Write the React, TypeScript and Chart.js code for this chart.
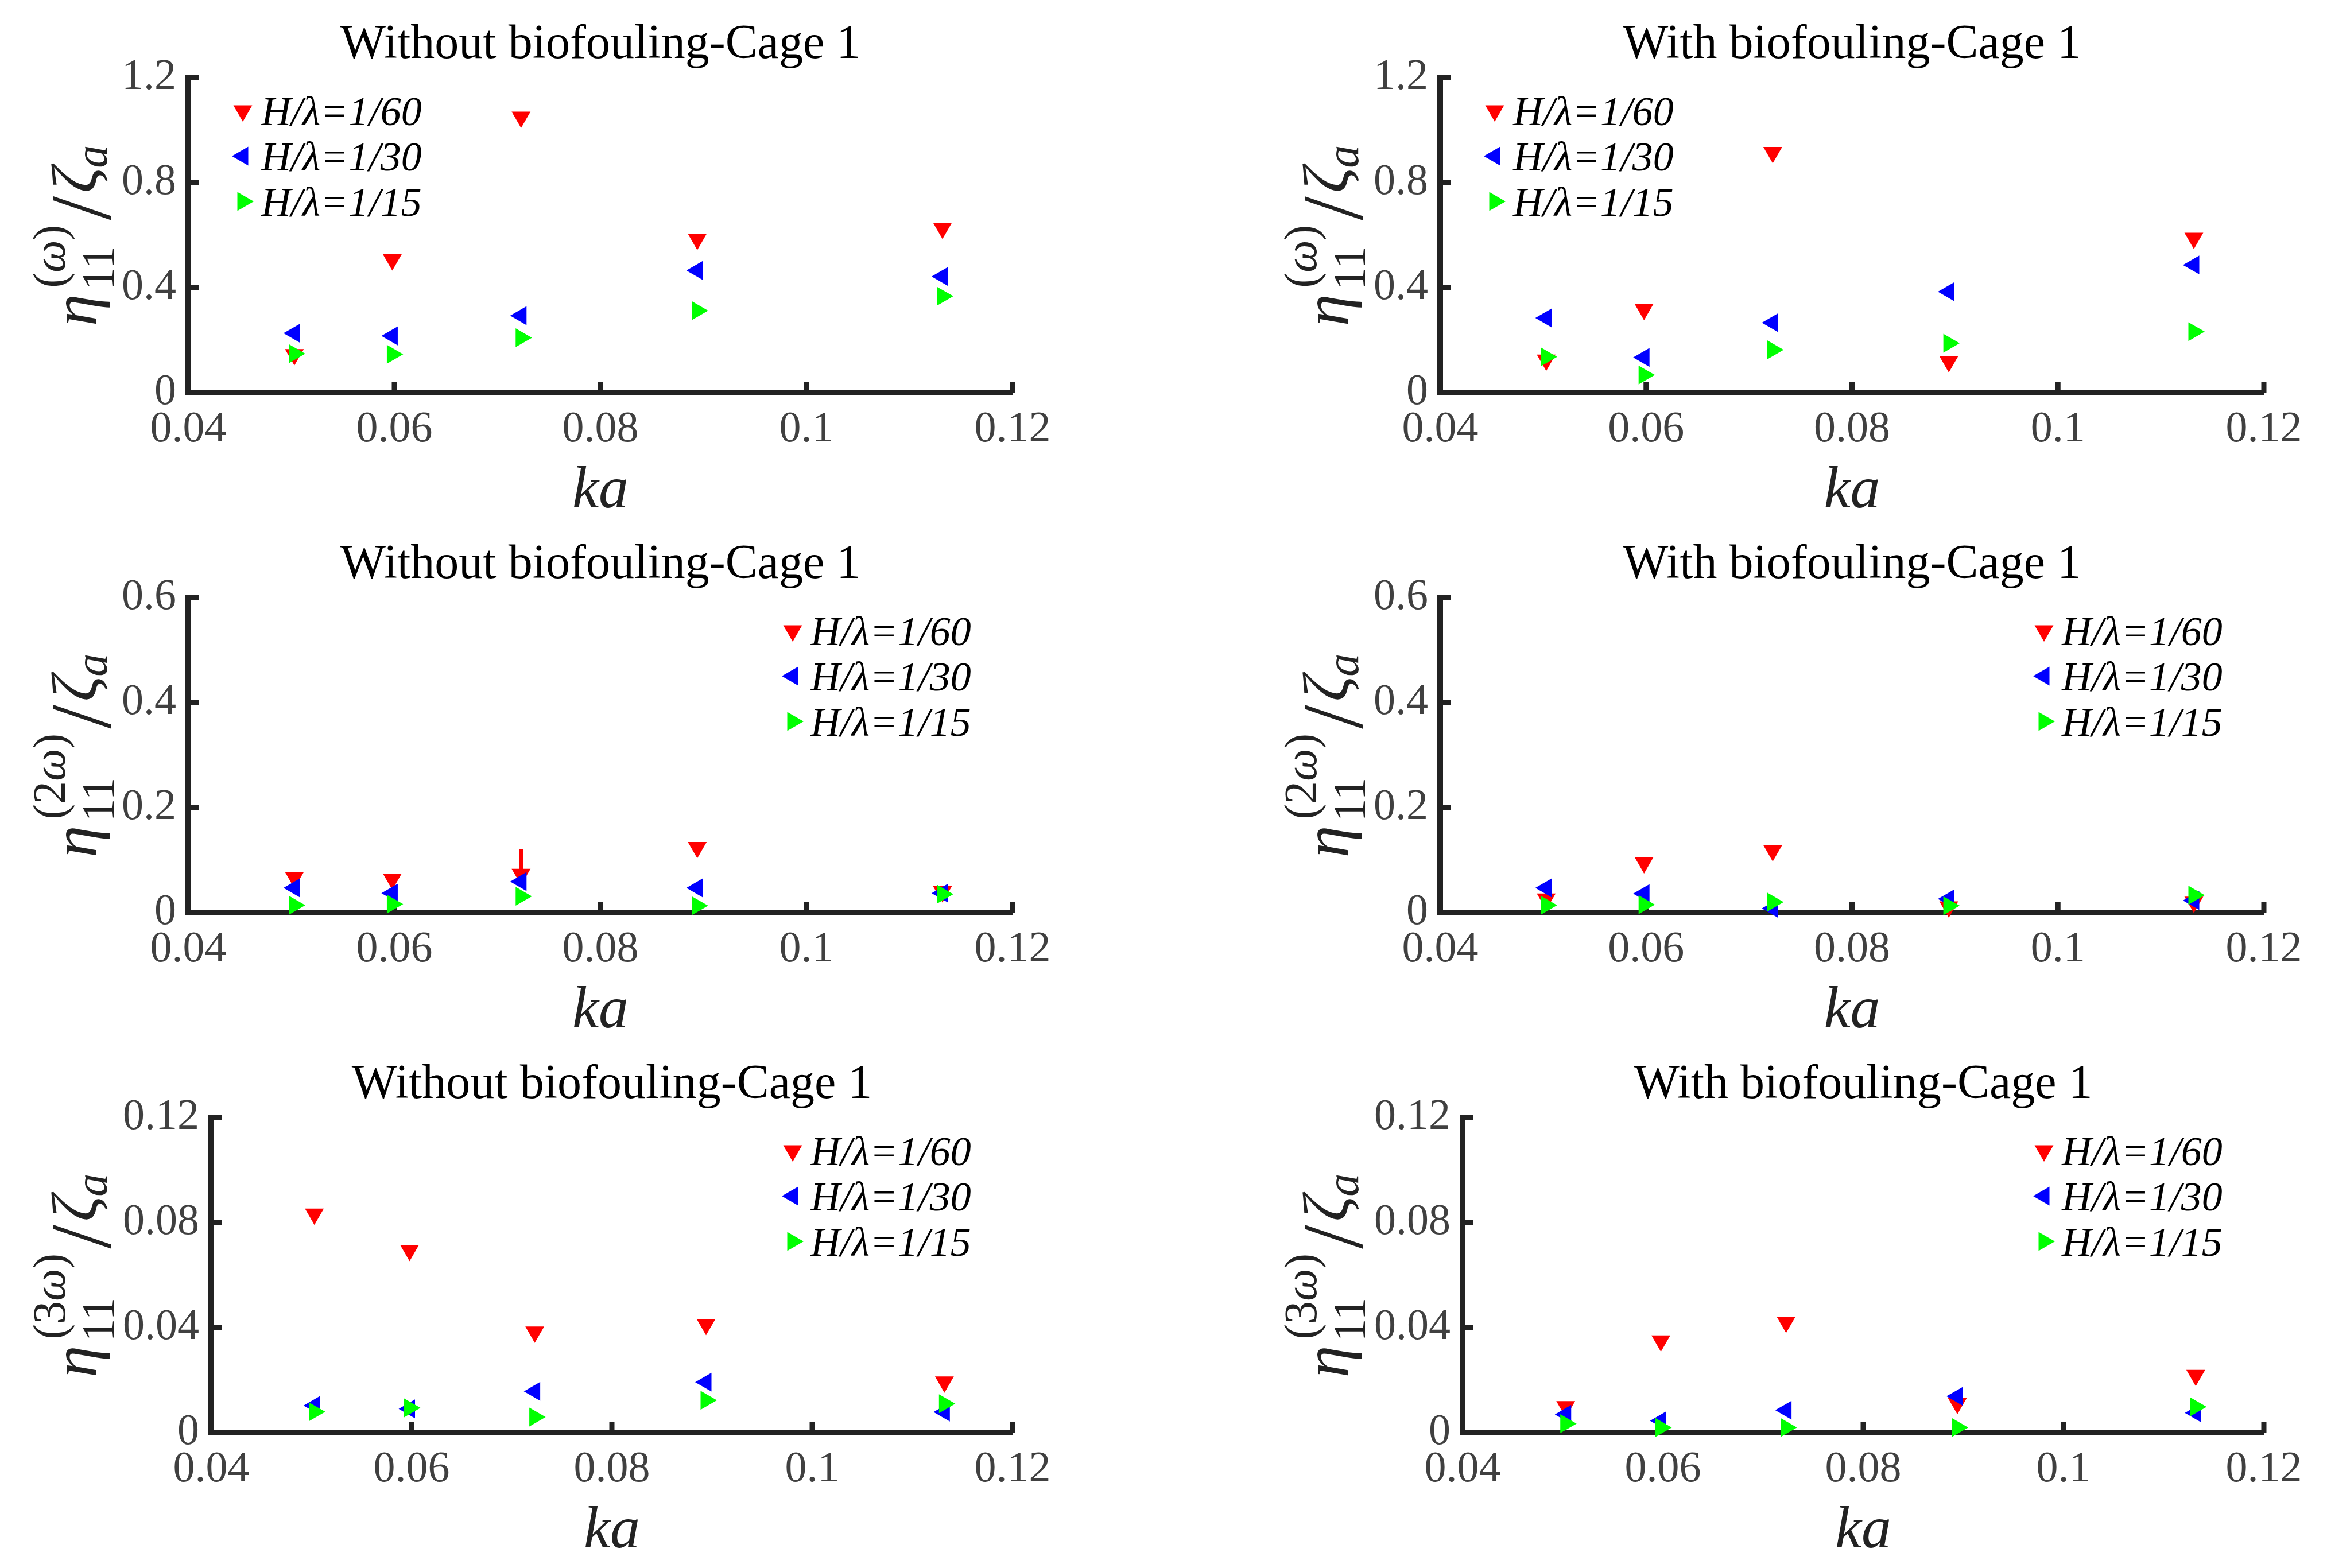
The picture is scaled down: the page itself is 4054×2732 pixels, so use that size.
import { useEffect, useRef } from "react"
import { Chart, registerables } from "chart.js"

Chart.register(...registerables)

// ka values of the five test waves
const KA = [0.0503, 0.0598, 0.0723, 0.0894, 0.1132]
const X_TICKS = [0.04, 0.06, 0.08, 0.1, 0.12]

const SERIES_LABELS = ["H/λ=1/60", "H/λ=1/30", "H/λ=1/15"]
const SERIES_COLORS = ["#ff0000", "#0000ff", "#00ff00"]
const SERIES_ROTATION = [180, 270, 90] // v, <, >

// first harmonic (ω)
const W1_CLEAN_60 = [0.145, 0.506, 1.049, 0.584, 0.626]
const W1_CLEAN_30 = [0.226, 0.216, 0.293, 0.465, 0.442]
const W1_CLEAN_15 = [0.148, 0.146, 0.209, 0.312, 0.367]
const W1_FOUL_60 = [0.124, 0.317, 0.915, 0.118, 0.588]
const W1_FOUL_30 = [0.284, 0.134, 0.266, 0.384, 0.486]
const W1_FOUL_15 = [0.136, 0.067, 0.163, 0.188, 0.232]

// second harmonic (2ω)
const W2_CLEAN_60 = [0.067, 0.064, 0.073, 0.124, 0.04]
const W2_CLEAN_30 = [0.047, 0.037, 0.059, 0.047, 0.037]
const W2_CLEAN_15 = [0.014, 0.016, 0.031, 0.013, 0.035]
const W2_FOUL_60 = [0.026, 0.095, 0.118, 0.011, 0.02]
const W2_FOUL_30 = [0.047, 0.036, 0.008, 0.026, 0.023]
const W2_FOUL_15 = [0.014, 0.015, 0.02, 0.013, 0.033]

// third harmonic (3ω)
const W3_CLEAN_60 = [0.0832, 0.0694, 0.0383, 0.0412, 0.0193]
const W3_CLEAN_30 = [0.0103, 0.009, 0.0157, 0.0192, 0.0078]
const W3_CLEAN_15 = [0.0079, 0.0094, 0.0059, 0.0123, 0.011]
const W3_FOUL_60 = [0.0099, 0.0349, 0.0421, 0.0111, 0.0218]
const W3_FOUL_30 = [0.0069, 0.0045, 0.0085, 0.0138, 0.0075]
const W3_FOUL_15 = [0.0034, 0.0019, 0.0019, 0.0019, 0.0098]

// the short red bar above the 1/60 marker at ka≈0.072 (clean, 2ω)
const W2_CLEAN_BAR_KA = 0.0723
const W2_CLEAN_BAR = [0.077, 0.121]

const Y_TICKS_W1 = [0, 0.4, 0.8, 1.2]
const Y_TICKS_W2 = [0, 0.2, 0.4, 0.6]
const Y_TICKS_W3 = [0, 0.04, 0.08, 0.12]

const TITLE_CLEAN = "Without biofouling-Cage 1"
const TITLE_FOUL = "With biofouling-Cage 1"

// page layout (px)
const CELL_X = [0, 2100]
const CELL_W = [2000, 1954]
const CELL_Y = [0, 906, 1812]
const CELL_H = [906, 906, 920]
const AREA_TOP = 135
const AREA_BOTTOM = 684
const AREA_LEFT = [
  [328, 328, 368],
  [409, 409, 448],
]
const AREA_RIGHT = [1764, 1844]
const YLABEL_X = [168, 248]

const SERIF = "'Liberation Serif', 'Times New Roman', serif"
const AXIS_COLOR = "#222222"
const TICK_COLOR = "#404040"
const MARKER_R = 19

type PanelSpec = {
  title: string
  harmonic: string
  yTicks: number[]
  values: number[][]
  legend: "left" | "right"
  row: number
  col: number
  bar?: number[]
}

const PANELS: PanelSpec[] = [
  { title: TITLE_CLEAN, harmonic: "", yTicks: Y_TICKS_W1, values: [W1_CLEAN_60, W1_CLEAN_30, W1_CLEAN_15], legend: "left", row: 0, col: 0 },
  { title: TITLE_FOUL, harmonic: "", yTicks: Y_TICKS_W1, values: [W1_FOUL_60, W1_FOUL_30, W1_FOUL_15], legend: "left", row: 0, col: 1 },
  { title: TITLE_CLEAN, harmonic: "2", yTicks: Y_TICKS_W2, values: [W2_CLEAN_60, W2_CLEAN_30, W2_CLEAN_15], legend: "right", row: 1, col: 0, bar: W2_CLEAN_BAR },
  { title: TITLE_FOUL, harmonic: "2", yTicks: Y_TICKS_W2, values: [W2_FOUL_60, W2_FOUL_30, W2_FOUL_15], legend: "right", row: 1, col: 1 },
  { title: TITLE_CLEAN, harmonic: "3", yTicks: Y_TICKS_W3, values: [W3_CLEAN_60, W3_CLEAN_30, W3_CLEAN_15], legend: "right", row: 2, col: 0 },
  { title: TITLE_FOUL, harmonic: "3", yTicks: Y_TICKS_W3, values: [W3_FOUL_60, W3_FOUL_30, W3_FOUL_15], legend: "right", row: 2, col: 1 },
]

function triangle(ctx: CanvasRenderingContext2D, cx: number, cy: number, r: number, rotDeg: number) {
  let rad = (rotDeg * Math.PI) / 180
  ctx.beginPath()
  ctx.moveTo(cx + Math.sin(rad) * r, cy - Math.cos(rad) * r)
  rad += (2 * Math.PI) / 3
  ctx.lineTo(cx + Math.sin(rad) * r, cy - Math.cos(rad) * r)
  rad += (2 * Math.PI) / 3
  ctx.lineTo(cx + Math.sin(rad) * r, cy - Math.cos(rad) * r)
  ctx.closePath()
  ctx.fill()
}

type Run = { t: string; italic: boolean }

function runWidth(ctx: CanvasRenderingContext2D, runs: Run[], size: number) {
  let w = 0
  for (const r of runs) {
    ctx.font = `${r.italic ? "italic " : ""}${size}px ${SERIF}`
    w += ctx.measureText(r.t).width
  }
  return w
}

function drawRuns(ctx: CanvasRenderingContext2D, runs: Run[], size: number, x: number, y: number) {
  for (const r of runs) {
    ctx.font = `${r.italic ? "italic " : ""}${size}px ${SERIF}`
    ctx.fillText(r.t, x, y)
    x += ctx.measureText(r.t).width
  }
}

// η_11^(nω) / ζ_a, written bottom to top
function drawYLabel(ctx: CanvasRenderingContext2D, baseX: number, centerY: number, harmonic: string) {
  const MAIN = 112
  const SCRIPT = 80
  const SLASH = 150
  const eta: Run[] = [{ t: "η", italic: true }]
  const sub: Run[] = [{ t: "11", italic: false }]
  const sup: Run[] = [
    { t: "(", italic: false },
    ...(harmonic ? [{ t: harmonic, italic: false }] : []),
    { t: "ω", italic: true },
    { t: ")", italic: false },
  ]
  const slash: Run[] = [{ t: "/", italic: false }]
  const zeta: Run[] = [{ t: "ζ", italic: true }]
  const a: Run[] = [{ t: "a", italic: true }]

  const wEta = runWidth(ctx, eta, MAIN)
  const wScript = Math.max(runWidth(ctx, sub, SCRIPT), runWidth(ctx, sup, SCRIPT))
  const wSlash = runWidth(ctx, slash, SLASH)
  const wZeta = runWidth(ctx, zeta, MAIN)
  const wA = runWidth(ctx, a, SCRIPT)
  const total = wEta + 7 + wScript + 12 + wSlash + 6 + wZeta + wA

  ctx.save()
  ctx.translate(baseX, centerY)
  ctx.rotate(-Math.PI / 2)
  ctx.fillStyle = AXIS_COLOR
  ctx.textAlign = "left"
  ctx.textBaseline = "alphabetic"
  let x = -total / 2
  drawRuns(ctx, eta, MAIN, x, 0)
  x += wEta + 7
  drawRuns(ctx, sub, SCRIPT, x, 30)
  drawRuns(ctx, sup, SCRIPT, x + 4, -55)
  x += wScript + 12
  drawRuns(ctx, slash, SLASH, x, 25)
  x += wSlash + 6
  drawRuns(ctx, zeta, MAIN, x, 0)
  x += wZeta - 2
  drawRuns(ctx, a, SCRIPT, x, 18)
  ctx.restore()
}

function Panel({ spec }: { spec: PanelSpec }) {
  const canvasRef = useRef<HTMLCanvasElement>(null)
  const w = CELL_W[spec.col]
  const h = CELL_H[spec.row]
  const left = AREA_LEFT[spec.col][spec.row]
  const right = AREA_RIGHT[spec.col]

  useEffect(() => {
    if (!canvasRef.current) return
    const ctx = canvasRef.current.getContext("2d")
    if (!ctx) return

    const datasets: any[] = spec.values.map((vals, i) => ({
      label: SERIES_LABELS[i],
      data: KA.map((k, j) => ({ x: k, y: vals[j] })),
      pointStyle: "triangle",
      pointRotation: SERIES_ROTATION[i],
      pointRadius: MARKER_R,
      pointHoverRadius: MARKER_R,
      backgroundColor: SERIES_COLORS[i],
      borderWidth: 0,
      showLine: false,
      clip: false,
      order: 3 - i,
    }))
    if (spec.bar) {
      datasets.push({
        label: "bar",
        data: spec.bar.map((v) => ({ x: W2_CLEAN_BAR_KA, y: v })),
        showLine: true,
        borderColor: SERIES_COLORS[0],
        borderWidth: 7,
        pointRadius: 0,
        clip: false,
        order: 4,
      })
    }

    const matlabLook = {
      id: "matlabLook",
      beforeDatasetsDraw(chart: Chart) {
        const c = chart.ctx
        const area = chart.chartArea
        const xs = chart.scales.x
        const ys = chart.scales.y
        c.save()
        c.strokeStyle = AXIS_COLOR
        c.lineWidth = 9
        c.beginPath()
        for (const v of X_TICKS) {
          const px = xs.getPixelForValue(v)
          c.moveTo(px, area.bottom)
          c.lineTo(px, area.bottom - 19)
        }
        for (const v of spec.yTicks) {
          const py = ys.getPixelForValue(v)
          c.moveTo(area.left, py)
          c.lineTo(area.left + 19, py)
        }
        c.stroke()
        c.restore()
      },
      afterDraw(chart: Chart) {
        const c = chart.ctx
        const area = chart.chartArea
        const cx = (area.left + area.right) / 2
        c.save()
        // title
        c.fillStyle = "#000000"
        c.textAlign = "center"
        c.textBaseline = "alphabetic"
        c.font = `84px ${SERIF}`
        c.fillText(spec.title, cx, area.top - 34)
        // x label
        c.fillStyle = AXIS_COLOR
        c.font = `italic 104px ${SERIF}`
        c.fillText("ka", cx, area.bottom + 200)
        // legend
        c.textAlign = "left"
        c.font = `italic 72px ${SERIF}`
        for (let i = 0; i < SERIES_LABELS.length; i++) {
          const base = area.top + 83 + i * 79
          const markerX = spec.legend === "left" ? area.left + 95 : area.right - 383
          const textX = spec.legend === "left" ? area.left + 127 : area.right - 352
          c.fillStyle = SERIES_COLORS[i]
          triangle(c, markerX, base - 25, MARKER_R, SERIES_ROTATION[i])
          c.fillStyle = "#000000"
          c.fillText(SERIES_LABELS[i], textX, base)
        }
        c.restore()
        drawYLabel(c, YLABEL_X[spec.col], (area.top + area.bottom) / 2, spec.harmonic)
      },
    }

    const tickFont = { family: SERIF, size: 76, lineHeight: 1.2 }

    const chart = new Chart(ctx, {
      type: "scatter",
      data: { datasets },
      options: {
        animation: false,
        responsive: false,
        events: [],
        layout: { padding: { left: 0, top: AREA_TOP, right: w - right, bottom: 0 } },
        plugins: {
          legend: { display: false },
          tooltip: { enabled: false },
          title: { display: false },
        },
        scales: {
          x: {
            type: "linear",
            position: "bottom",
            min: X_TICKS[0],
            max: X_TICKS[X_TICKS.length - 1],
            afterBuildTicks: (s: any) => {
              s.ticks = X_TICKS.map((v) => ({ value: v }))
            },
            afterFit: (s: any) => {
              s.height = h - AREA_BOTTOM
            },
            grid: { display: false, drawTicks: false },
            border: { display: true, width: 10, color: AXIS_COLOR },
            ticks: {
              autoSkip: false,
              maxRotation: 0,
              padding: 19,
              color: TICK_COLOR,
              font: tickFont,
              callback: (v: any) => String(v),
            },
          },
          y: {
            type: "linear",
            position: "left",
            min: spec.yTicks[0],
            max: spec.yTicks[spec.yTicks.length - 1],
            afterBuildTicks: (s: any) => {
              s.ticks = spec.yTicks.map((v) => ({ value: v }))
            },
            afterFit: (s: any) => {
              s.width = left
            },
            grid: { display: false, drawTicks: false },
            border: { display: true, width: 10, color: AXIS_COLOR },
            ticks: {
              autoSkip: false,
              padding: 21,
              color: TICK_COLOR,
              font: tickFont,
              callback: (v: any) => String(v),
            },
          },
        },
      },
      plugins: [matlabLook],
    })

    return () => {
      chart.destroy()
    }
  }, [])

  return (
    <div
      style={{
        position: "absolute",
        left: CELL_X[spec.col],
        top: CELL_Y[spec.row],
        width: w,
        height: h,
      }}
    >
      <canvas ref={canvasRef} width={w} height={h} style={{ display: "block", width: w, height: h }} />
    </div>
  )
}

export default function App() {
  return (
    <div style={{ position: "absolute", left: 0, top: 0, width: 4054, height: 2732, background: "#ffffff", overflow: "hidden" }}>
      {PANELS.map((p, i) => (
        <Panel key={i} spec={p} />
      ))}
    </div>
  )
}
